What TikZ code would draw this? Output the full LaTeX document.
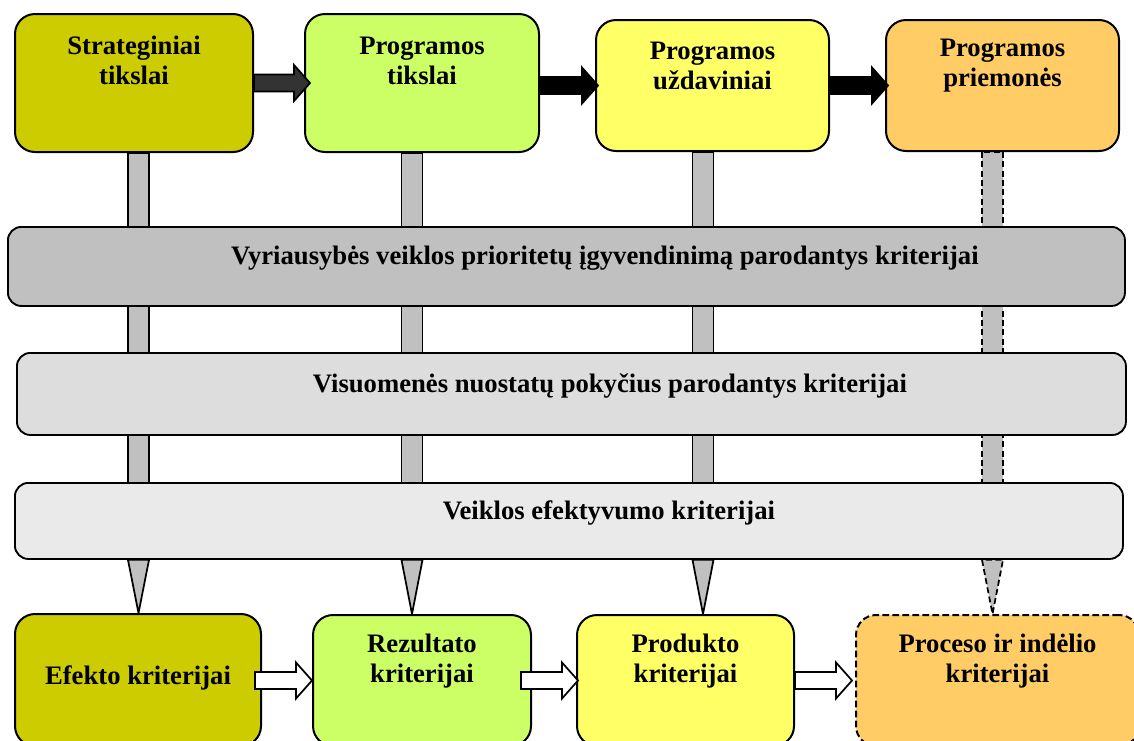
\documentclass[tikz,border=0pt]{standalone}
\usepackage{fontspec}
\setmainfont{Liberation Serif}
\usetikzlibrary{calc}
\pgfdeclarelayer{back}
\pgfsetlayers{back,main}

\definecolor{cOlive}{HTML}{CCCC00}
\definecolor{cLime}{HTML}{CCFF66}
\definecolor{cLemon}{HTML}{FFFF66}
\definecolor{cApricot}{HTML}{FFCC66}
\definecolor{cBandA}{HTML}{C0C0C0}
\definecolor{cBandB}{HTML}{DDDDDD}
\definecolor{cBandC}{HTML}{EAEAEA}
\definecolor{cBar}{HTML}{C0C0C0}
\definecolor{cDark}{HTML}{333333}

% block arrow from node #1 to node #2, style #3, shifts of tail (#4) and tip (#5)
\newcommand\blockarrow[5]{%
  \coordinate (ba-s) at ($(#1.east)+(#4,0)$);
  \coordinate (ba-t) at ($(#2.west)+(#5,0)$);
  \coordinate (ba-s2) at (ba-s |- ba-t);
  \draw[#3] ($(ba-s2)+(0,-8.5)$) -- ($(ba-t)+(-16,-8.5)$) -- ($(ba-t)+(-16,-18)$)
    -- (ba-t) -- ($(ba-t)+(-16,18)$) -- ($(ba-t)+(-16,8.5)$) -- ($(ba-s2)+(0,8.5)$) -- cycle;
}

\begin{document}
\begin{tikzpicture}[x=0.75pt,y=-0.75pt,
  box/.style={draw=black, line width=1.5pt, rounded corners=15pt, anchor=north west, inner sep=0pt},
  band/.style={draw=black, line width=1.4pt, rounded corners=10pt, anchor=north west, inner sep=0pt},
  txt/.style={font=\bfseries\fontsize{20}{22.5}\selectfont, align=center, inner sep=0pt},
  bar/.style={draw=black, line width=1.3pt, fill=cBar},
  dbar/.style={bar, dash pattern=on 4.5pt off 2.5pt},
  arr/.style={draw=black, line width=1.3pt, line join=miter},
]
\useasboundingbox (0,0) rectangle (1134,740);

% goals row
\node[box, fill=cOlive,   minimum width=178.5pt,  minimum height=103.5pt] (t1) at (14,13) {};
\node[box, fill=cLime,    minimum width=175.5pt,  minimum height=103.5pt] (t2) at (304,13) {};
\node[box, fill=cLemon,   minimum width=174.75pt, minimum height=98.25pt] (t3) at (595,19) {};
\node[box, fill=cApricot, minimum width=174.75pt, minimum height=98.25pt] (t4) at (885,19) {};
\node[txt] (t1x) at ($(t1.north)+(0,47)$) {Strateginiai\\tikslai};
\node[txt] (t2x) at ($(t2.north)+(0,48)$) {Programos\\tikslai};
\node[txt] (t3x) at ($(t3.north)+(0,47)$) {Programos\\uždaviniai};
\node[txt] (t4x) at ($(t4.north)+(0,47)$) {Programos\\priemonės};

% criteria bands
\node[band, fill=cBandA, minimum width=837.75pt, minimum height=59.25pt] (b1) at (7,226) {};
\node[band, fill=cBandB, minimum width=831.75pt, minimum height=61.5pt] (b2) at (16,352) {};
\node[band, fill=cBandC, minimum width=831pt,    minimum height=57pt]   (b3) at (14,482) {};
\node[txt] (b1x) at ($(b1.center)+(38.5,-8.5)$) {Vyriausybės veiklos prioritetų įgyvendinimą parodantys kriterijai};
\node[txt] (b2x) at ($(b2.center)+(38.5,-8)$) {Visuomenės nuostatų pokyčius parodantys kriterijai};
\node[txt] (b3x) at ($(b3.center)+(40,-8)$) {Veiklos efektyvumo kriterijai};

% criteria row
\node[box, fill=cOlive,   minimum width=184.5pt,  minimum height=99pt]    (B1) at (14,613) {};
\node[box, fill=cLime,    minimum width=163.5pt,  minimum height=98.25pt] (B2) at (312,614) {};
\node[box, fill=cLemon,   minimum width=162.75pt, minimum height=98.25pt] (B3) at (576,614) {};
\node[box, fill=cApricot, minimum width=212.25pt, minimum height=98.25pt, dash pattern=on 5pt off 2.5pt] (B4) at (855,614) {};
\node[txt] (B1x) at ($(B1.north)+(0,65)$) {Efekto kriterijai};
\node[txt] (B2x) at ($(B2.north)+(0,47.5)$) {Rezultato\\kriterijai};
\node[txt] (B3x) at ($(B3.north)+(0,47.5)$) {Produkto\\kriterijai};
\node[txt] (B4x) at ($(B4.north)+(0,47)$) {Proceso ir indėlio\\kriterijai};

% vertical links behind the bands
\coordinate (k1) at (138.5,0);
\coordinate (k2) at (412,0);
\coordinate (k3) at (703,0);
\coordinate (k4) at (992.5,0);
\begin{pgfonlayer}{back}
\foreach \k/\t/\d/\s in {k1/t1/B1/bar, k2/t2/B2/bar, k3/t3/B3/bar, k4/t4/B4/dbar}{
  \coordinate (ktop) at (\k |- \t.south);
  \coordinate (kbot) at (\k |- b3.south);
  \coordinate (ktip) at (\k |- \d.north);
  \draw[\s] ($(ktop)+(-10.5,0)$) rectangle ($(kbot)+(10.5,0)$);
  \draw[\s] ($(kbot)+(-10.5,0)$) -- (ktip) -- ($(kbot)+(10.5,0)$) -- cycle;
}
\end{pgfonlayer}

% horizontal block arrows
\blockarrow{t1}{t2}{arr, fill=cDark}{0}{6}
\blockarrow{t2}{t3}{arr, fill=black}{0}{3}
\blockarrow{t3}{t4}{arr, fill=black}{0}{3}
\blockarrow{B1}{B2}{arr, fill=white}{-7}{0}
\blockarrow{B2}{B3}{arr, fill=white}{-11}{2}
\blockarrow{B3}{B4}{arr, fill=white}{0}{-3}
\end{tikzpicture}
\end{document}
